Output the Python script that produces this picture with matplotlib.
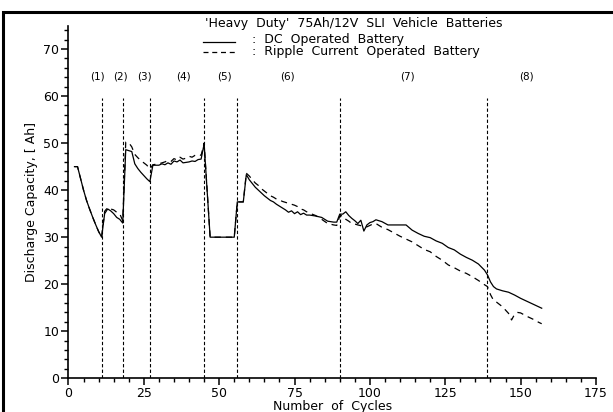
import matplotlib
matplotlib.use('Agg')
import matplotlib.pyplot as plt
from matplotlib.patches import Rectangle
from matplotlib.lines import Line2D

# DC operated battery (solid line)
dc_cycles = [2, 3, 4, 5, 6, 7, 8, 9, 10, 11,
             12, 13, 14, 15, 16, 17, 18,
             19, 20, 21, 22, 23, 24, 25, 26, 27,
             28, 29, 30, 31, 32, 33, 34, 35, 36, 37, 38, 39, 40, 41, 42, 43, 44, 45,
             47, 55,
             56, 58, 59, 60, 61, 62, 63, 64, 65, 66, 67, 68, 69, 70, 71, 72, 73, 74,
             75, 76, 77, 78, 79, 80, 82, 84, 86, 88, 89, 90,
             91, 92, 93, 94, 95, 96, 97, 98, 99, 100, 101, 102, 104, 106, 108, 110,
             112, 114, 116, 118, 120, 122, 124, 126, 128, 130, 132, 134, 136, 138,
             139, 140, 141, 142, 144, 146, 148, 150, 152, 154, 156, 157]
dc_capacity = [45, 45, 42.5, 40, 37.8, 36, 34.3, 32.7, 31.2, 30,
               35, 36, 35.6, 35, 34.2, 33.8, 33,
               48.6, 48.4, 48.2, 45.6, 44.6, 43.8, 43.1, 42.4, 41.8,
               45.3, 45.3, 45.3, 45.6, 45.4, 45.8, 45.5, 46.2, 46.0, 46.4, 45.8, 45.9,
               46.0, 46.2, 46.1, 46.5, 46.6, 49.8,
               30, 30,
               37.5, 37.5, 43.3, 42.2, 41.4, 40.6, 40.0, 39.4, 38.8, 38.3, 37.8, 37.5,
               37.0, 36.6, 36.2, 35.8, 35.3, 35.6, 35.0, 35.4, 34.8, 35.1, 34.7, 34.7,
               34.5, 34.2, 33.4, 33.2, 33.2, 34.9,
               34.9, 35.4, 34.6, 34.0, 33.5, 32.9, 33.6, 31.3, 32.6, 33.1, 33.3, 33.7,
               33.3, 32.6, 32.6, 32.6, 32.6, 31.5, 30.8, 30.2, 29.9, 29.2, 28.7, 27.8,
               27.3, 26.4, 25.7, 25.1, 24.3, 23.0,
               22.0, 20.5, 19.5, 19.0, 18.6, 18.3, 17.7, 17.0, 16.4, 15.8, 15.2, 14.9]

# Ripple current operated battery (dashed line)
rc_cycles = [2, 3, 4, 5, 6, 7, 8, 9, 10, 11,
             12, 13, 14, 15, 16, 17, 18,
             19, 20, 21, 22, 23, 24, 25, 26, 27,
             28, 29, 30, 31, 32, 33, 34, 35, 36, 37, 38, 39, 40, 41, 42, 43, 44, 45,
             47, 55,
             56, 58, 59, 60, 61, 62, 63, 64, 65, 66, 67, 68, 69, 70, 71, 72, 73, 74,
             75, 76, 77, 78, 79, 80, 82, 84, 86, 88, 89, 90,
             91, 92, 93, 94, 95, 96, 98, 99, 101, 102, 104, 106, 108, 110,
             112, 114, 116, 118, 120, 122, 124, 126, 128, 130, 132, 134, 136, 138,
             139, 140, 141, 142, 144, 146, 147, 148, 149, 150, 152, 154, 156, 157]
rc_capacity = [45, 45, 42.5, 40, 37.8, 36, 34.3, 32.7, 31.2, 30,
               35.5, 36.3, 36.0, 35.8, 35.3, 35.0, 33.5,
               50.2, 50.1, 49.2, 47.6, 46.9, 46.3, 45.8, 45.3, 44.5,
               45.4, 45.5, 45.6, 45.8, 46.0, 46.3, 46.1, 46.7, 46.4, 47.0, 46.6, 46.8,
               47.2, 47.0, 47.4, 47.6, 47.4, 50.0,
               30, 30,
               37.5, 37.5, 43.6, 43.0, 42.2, 41.5, 41.0, 40.3, 39.8, 39.3, 38.8, 38.5,
               38.1, 37.9, 37.6, 37.4, 37.2, 37.0, 36.8, 36.5, 36.0, 35.8, 35.4, 35.1,
               34.6, 33.8, 32.9, 32.6, 32.5, 34.5,
               34.6, 33.8, 33.4, 32.9, 32.8, 32.6, 32.3, 32.2, 32.8, 32.9, 32.1, 31.6,
               30.9, 30.2, 29.6, 29.0, 28.2, 27.4, 26.9, 25.9, 25.1, 24.1, 23.5, 22.8,
               22.3, 21.6, 20.8, 19.9,
               19.5, 17.8, 16.6, 16.2, 15.2, 13.8, 12.4, 13.6, 14.0, 13.9, 13.2, 12.6,
               11.9, 11.6]

# boundaries between test stages and stage labels
stage_bounds = [11, 18, 27, 45, 56, 90, 139]
stage_names = ['(1)', '(2)', '(3)', '(4)', '(5)', '(6)', '(7)', '(8)']
stage_label_x = [9.5, 17.2, 25.3, 38.3, 51.9, 72.6, 112.5, 152.0]

plt.rcParams['font.family'] = 'DejaVu Sans'
plt.rcParams['font.size'] = 9

fig = plt.figure(figsize=(6.13, 4.12), dpi=100)
ax = fig.add_axes([0.1117, 0.0818, 0.8605, 0.8563])

ax.plot(dc_cycles, dc_capacity, color='black', lw=0.9, ls='-')
ax.plot(rc_cycles, rc_capacity, color='black', lw=0.9, ls=(0, (5, 4)))

for b in stage_bounds:
    ax.plot([b, b], [0, 59.5], color='black', lw=0.8, ls=(0, (3, 2)))

for name, xs in zip(stage_names, stage_label_x):
    ax.text(xs, 64.2, name, ha='center', va='center', fontsize=7.5)

ax.set_xlim(0, 175)
ax.set_ylim(0, 75)
ax.set_xticks(range(0, 176, 25))
ax.set_xticks(range(0, 176, 5), minor=True)
ax.set_yticks(range(0, 71, 10))
ax.set_yticks(range(0, 75, 2), minor=True)
for s in ['top', 'right']:
    ax.spines[s].set_visible(False)
ax.spines['left'].set_linewidth(1.2)
ax.spines['bottom'].set_linewidth(1.2)
ax.tick_params(which='major', direction='out', length=5, width=1.1, labelsize=9, pad=1.5)
ax.tick_params(which='minor', direction='out', length=3, width=1.0)

ax.set_xlabel('Number  of  Cycles', fontsize=9, labelpad=0)
ax.set_ylabel('Discharge Capacity, [ Ah]', fontsize=9, labelpad=4)

# header and legend drawn as figure text
fig.text(205 / 613, 1 - 23.5 / 412, "'Heavy  Duty'  75Ah/12V  SLI  Vehicle  Batteries",
         ha='left', va='center', fontsize=9)
fig.add_artist(Line2D([203 / 613, 235 / 613], [1 - 42 / 412, 1 - 42 / 412],
                      color='black', lw=0.9))
fig.add_artist(Line2D([203 / 613, 235 / 613], [1 - 51.5 / 412, 1 - 51.5 / 412],
                      color='black', lw=0.9, ls=(0, (4, 3))))
fig.text(252 / 613, 1 - 40 / 412, ':  DC  Operated  Battery', ha='left', va='center', fontsize=9)
fig.text(252 / 613, 1 - 51.5 / 412, ':  Ripple  Current  Operated  Battery',
         ha='left', va='center', fontsize=9)

# outer frame
fig.add_artist(Rectangle((2.5 / 613, -0.1), 1.2, 1.1 - 12.5 / 412 + 0.0,
                         transform=fig.transFigure, fill=False, lw=2.2, color='black'))

fig.savefig('out.png', dpi=100)
